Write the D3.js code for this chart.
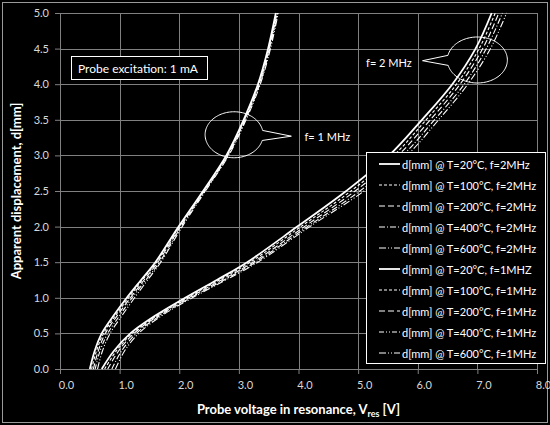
<!DOCTYPE html>
<html>
<head>
<meta charset="utf-8">
<script src="https://cdn.jsdelivr.net/npm/d3@7"></script>
<style>
  body { margin: 0; background: #000; }
  text { font-family: Lato, "Open Sans", sans-serif; }
</style>
</head>
<body>
<div id="chart"></div>
<script>
// Displacement levels (y) shared by all series
var displacement = [0, 0.25, 0.5, 0.75, 1.0, 1.25, 1.5, 2.0, 2.5, 3.0, 3.5, 4.0, 4.5, 5.0];

// Probe voltage (x) for each series, f = 2 MHz
var volt2MHz_T20  = [0.70, 0.90, 1.18, 1.60, 2.10, 2.63, 3.14, 3.98, 4.80, 5.52, 6.07, 6.58, 6.97, 7.24];
var volt2MHz_T100 = [0.75, 0.94, 1.21, 1.63, 2.13, 2.67, 3.19, 4.04, 4.88, 5.60, 6.14, 6.65, 7.03, 7.30];
var volt2MHz_T200 = [0.80, 0.98, 1.24, 1.65, 2.16, 2.71, 3.24, 4.10, 4.95, 5.67, 6.21, 6.71, 7.09, 7.36];
var volt2MHz_T400 = [0.87, 1.03, 1.28, 1.68, 2.19, 2.75, 3.28, 4.15, 5.03, 5.75, 6.28, 6.78, 7.15, 7.42];
var volt2MHz_T600 = [0.93, 1.08, 1.32, 1.71, 2.22, 2.78, 3.32, 4.19, 5.10, 5.82, 6.35, 6.84, 7.22, 7.49];

// Probe voltage (x) for each series, f = 1 MHz
var volt1MHz_T20  = [0.50, 0.58, 0.70, 0.90, 1.12, 1.36, 1.60, 1.99, 2.40, 2.79, 3.08, 3.32, 3.49, 3.62];
var volt1MHz_T100 = [0.53, 0.61, 0.73, 0.93, 1.15, 1.38, 1.62, 2.00, 2.41, 2.80, 3.09, 3.33, 3.50, 3.63];
var volt1MHz_T200 = [0.56, 0.64, 0.76, 0.96, 1.18, 1.41, 1.64, 2.02, 2.42, 2.81, 3.10, 3.34, 3.51, 3.64];
var volt1MHz_T400 = [0.59, 0.67, 0.80, 1.00, 1.21, 1.44, 1.67, 2.03, 2.43, 2.82, 3.11, 3.35, 3.52, 3.65];
var volt1MHz_T600 = [0.63, 0.71, 0.84, 1.04, 1.25, 1.47, 1.69, 2.05, 2.44, 2.83, 3.12, 3.36, 3.53, 3.66];

var seriesNames = [
  "d[mm] @ T=20°C, f=2MHz", "d[mm] @ T=100°C, f=2MHz", "d[mm] @ T=200°C, f=2MHz",
  "d[mm] @ T=400°C, f=2MHz", "d[mm] @ T=600°C, f=2MHz",
  "d[mm] @ T=20°C, f=1MHZ", "d[mm] @ T=100°C, f=1MHz", "d[mm] @ T=200°C, f=1MHz",
  "d[mm] @ T=400°C, f=1MHz", "d[mm] @ T=600°C, f=1MHz"
];
var seriesValues = [
  volt2MHz_T20, volt2MHz_T100, volt2MHz_T200, volt2MHz_T400, volt2MHz_T600,
  volt1MHz_T20, volt1MHz_T100, volt1MHz_T200, volt1MHz_T400, volt1MHz_T600
];

var xTicks = [0, 1, 2, 3, 4, 5, 6, 7, 8];
var yTicks = [0, 0.5, 1.0, 1.5, 2.0, 2.5, 3.0, 3.5, 4.0, 4.5, 5.0];

// line styles per series (solid, short dash, long dash, dash-dot, dash-dot-dot)
var dashStyles = ["none", "3,2", "6,3", "6,2,1,2", "7,2,1,2,1,2",
                  "none", "3,2", "6,3", "5,2,1,2,1,2", "7,2,1,2,1,2"];

// SVG size
var svgWidth = 550;
var svgHeight = 425;

var margin = { top: 13, right: 13, bottom: 56, left: 60 };
var chartWidth = svgWidth - margin.left - margin.right;
var chartHeight = svgHeight - margin.top - margin.bottom;

var svg = d3.select("#chart")
  .append("svg")
  .attr("width", svgWidth)
  .attr("height", svgHeight)
  .style("background", "#000");

// outer border
svg.append("rect")
  .attr("x", 2.5).attr("y", 2.5)
  .attr("width", svgWidth - 5).attr("height", svgHeight - 5)
  .attr("fill", "none")
  .attr("stroke", "#9a9a9a");

var chartGroup = svg.append("g")
  .attr("transform", `translate(${margin.left}, ${margin.top})`);

var xScale = d3.scaleLinear().domain([0, 8]).range([0, chartWidth]);
var yScale = d3.scaleLinear().domain([0, 5]).range([chartHeight, 0]);

// gridlines
chartGroup.append("g")
  .selectAll("line")
  .data(xTicks.slice(1))
  .enter()
  .append("line")
  .attr("x1", d => Math.round(xScale(d)) + 0.5)
  .attr("x2", d => Math.round(xScale(d)) + 0.5)
  .attr("y1", 0)
  .attr("y2", chartHeight)
  .attr("stroke", "#808080");

chartGroup.append("g")
  .selectAll("line")
  .data(yTicks.slice(1))
  .enter()
  .append("line")
  .attr("x1", 0)
  .attr("x2", chartWidth)
  .attr("y1", d => Math.round(yScale(d)) + 0.5)
  .attr("y2", d => Math.round(yScale(d)) + 0.5)
  .attr("stroke", "#808080");

// axes
var bottomAxis = d3.axisBottom(xScale)
  .tickValues(xTicks)
  .tickSize(5)
  .tickFormat(d3.format(".1f"));
var leftAxis = d3.axisLeft(yScale)
  .tickValues(yTicks)
  .tickSize(5)
  .tickFormat(d3.format(".1f"));

var xAxisG = chartGroup.append("g")
  .attr("transform", `translate(0, ${chartHeight})`)
  .call(bottomAxis);
var yAxisG = chartGroup.append("g")
  .call(leftAxis);

[xAxisG, yAxisG].forEach(function(g) {
  g.select(".domain").attr("stroke", "#808080");
  g.selectAll(".tick line").attr("stroke", "#808080");
  g.selectAll(".tick text")
    .attr("fill", "#d9d9d9")
    .attr("font-size", "11px")
    .style("font-family", "Lato, sans-serif");
});
xAxisG.selectAll(".tick text").attr("dx", 6).attr("y", 12);
yAxisG.selectAll(".tick text").attr("x", -11);

// curves
var line = d3.line()
  .x(d => xScale(d.v))
  .y(d => yScale(d.d))
  .curve(d3.curveCatmullRom.alpha(0.5));

var curveData = seriesValues.map(function(vals, i) {
  return {
    name: seriesNames[i],
    dash: dashStyles[i],
    solid: dashStyles[i] === "none",
    points: vals.map((v, j) => ({ v: v, d: displacement[j] }))
  };
});

chartGroup.append("g")
  .selectAll("path")
  .data(curveData.slice().reverse())
  .enter()
  .append("path")
  .attr("d", d => line(d.points))
  .attr("fill", "none")
  .attr("stroke", "#fff")
  .attr("stroke-width", d => d.solid ? 1.8 : 1.1)
  .attr("stroke-dasharray", d => d.dash);

// oval callouts, positioned in data units
function calloutPath(cx, cy, rx, ry, tx, ty) {
  var a = Math.atan2((ty - cy) / ry, (tx - cx) / rx);
  var gap = 0.22;
  var pts = [];
  for (var t = a + gap; t <= a + 2 * Math.PI - gap; t += 0.05) {
    pts.push([cx + rx * Math.cos(t), cy + ry * Math.sin(t)]);
  }
  pts.push([cx + rx * Math.cos(a - gap), cy + ry * Math.sin(a - gap)]);
  pts.push([tx, ty]);
  return d3.line()(pts) + "Z";
}

var callouts = [
  { cx: 2.92, cy: 3.29, rx: 29, ry: 23, tx: 3.88, ty: 3.27, label: "f= 1 MHz", lx: 4.1, ly: 3.26, anchor: "start" },
  { cx: 7.0, cy: 4.34, rx: 30, ry: 23, tx: 6.08, ty: 4.33, label: "f= 2 MHz", lx: 5.9, ly: 4.31, anchor: "end" }
];

callouts.forEach(function(c) {
  chartGroup.append("path")
    .attr("d", calloutPath(xScale(c.cx), yScale(c.cy), c.rx, c.ry, xScale(c.tx), yScale(c.ty)))
    .attr("fill", "none")
    .attr("stroke", "#fff")
    .attr("stroke-width", 1);
  chartGroup.append("text")
    .attr("x", xScale(c.lx))
    .attr("y", yScale(c.ly))
    .attr("text-anchor", c.anchor)
    .attr("dominant-baseline", "central")
    .attr("fill", "#fff")
    .attr("font-size", "11px")
    .text(c.label);
});

// "Probe excitation" box
svg.append("rect")
  .attr("x", 71.5).attr("y", 56.5)
  .attr("width", 136).attr("height", 23)
  .attr("fill", "#000")
  .attr("stroke", "#fff");
svg.append("text")
  .attr("x", 78)
  .attr("y", 68)
  .attr("dominant-baseline", "central")
  .attr("fill", "#fff")
  .attr("font-size", "12px")
  .text("Probe excitation: 1 mA");

// legend
var legend = svg.append("g")
  .attr("transform", "translate(366, 152)");

legend.append("rect")
  .attr("x", 0.5).attr("y", 0.5)
  .attr("width", 179).attr("height", 211)
  .attr("fill", "#000")
  .attr("stroke", "#fff");

var legendItems = legend.selectAll("g.item")
  .data(curveData)
  .enter()
  .append("g")
  .attr("transform", (d, i) => `translate(0, ${12 + i * 21})`);

legendItems.append("line")
  .attr("x1", 13).attr("x2", 34)
  .attr("y1", 0).attr("y2", 0)
  .attr("stroke", "#fff")
  .attr("stroke-width", d => d.solid ? 1.8 : 1.2)
  .attr("stroke-dasharray", d => d.dash);

legendItems.append("text")
  .attr("x", 36)
  .attr("y", 0)
  .attr("dominant-baseline", "central")
  .attr("fill", "#fff")
  .attr("font-size", "11px")
  .text(d => d.name);

// axis titles
var xTitle = svg.append("text")
  .attr("x", margin.left + chartWidth / 2)
  .attr("y", 414)
  .attr("text-anchor", "middle")
  .attr("fill", "#fff")
  .attr("font-size", "13px")
  .style("font-weight", "bold");
xTitle.append("tspan").text("Probe voltage in resonance, V");
xTitle.append("tspan").attr("font-size", "9px").attr("dy", 3).text("res");
xTitle.append("tspan").attr("dy", -3).text(" [V]");

svg.append("text")
  .attr("transform", `translate(21, ${margin.top + chartHeight / 2}) rotate(-90)`)
  .attr("text-anchor", "middle")
  .attr("fill", "#fff")
  .attr("font-size", "13px")
  .style("font-weight", "bold")
  .text("Apparent displacement, d[mm]");
</script>
</body>
</html>
